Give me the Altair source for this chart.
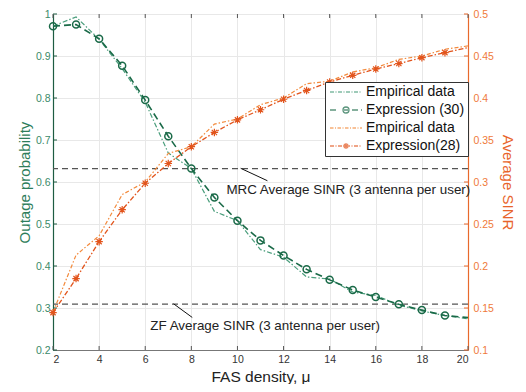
import altair as alt
import pandas as pd

# ---------------- data ----------------
x_vals = list(range(2, 21))
green_emp = [0.971, 0.993, 0.940, 0.870, 0.790, 0.669, 0.632, 0.530, 0.508, 0.439,
             0.421, 0.374, 0.369, 0.338, 0.330, 0.307, 0.293, 0.282, 0.274]
green_exp = [0.971, 0.975, 0.941, 0.877, 0.795, 0.709, 0.632, 0.563, 0.508, 0.461,
             0.425, 0.392, 0.367, 0.343, 0.326, 0.309, 0.295, 0.282, 0.277]
orange_emp = [0.145, 0.213, 0.236, 0.285, 0.300, 0.334, 0.342, 0.369, 0.375, 0.392,
              0.400, 0.417, 0.420, 0.431, 0.436, 0.446, 0.450, 0.458, 0.462]
orange_exp = [0.1445, 0.185, 0.229, 0.267, 0.2985, 0.322, 0.342, 0.359, 0.374, 0.386,
              0.3985, 0.409, 0.419, 0.427, 0.4345, 0.441, 0.448, 0.454, 0.460]
marker_x = list(range(2, 20))

ref_levels = [0.632, 0.309]          # MRC, ZF (left-axis units)
ann_text = ["MRC Average SINR (3 antenna per user)", "ZF Average SINR (3 antenna per user)"]
ann_tx = [9.52, 6.22]
ann_ty = [0.580, 0.257]
lead_x = [10.14, 7.23]
lead_y = [0.6326, 0.310]
lead_x2 = [11.30, 8.04]
lead_y2 = [0.603, 0.2775]

x_ticks = [2, 4, 6, 8, 10, 12, 14, 16, 18, 20]
left_ticks = [0.2, 0.3, 0.4, 0.5, 0.6, 0.7, 0.8, 0.9, 1.0]
right_ticks = [0.1, 0.15, 0.2, 0.25, 0.3, 0.35, 0.4, 0.45, 0.5]

legend_keys = ["ge", "gx", "oe", "ox"]
legend_labels = ["Empirical data", "Expression (30)", "Empirical data", "Expression(28)"]

# ---------------- style ----------------
FONT = "Liberation Sans"
W, H = 415, 336
C_GE, C_GX = "#4a9e7c", "#1a6a48"
C_OE, C_OX = "#f38a3c", "#e2541c"
C_LAX, C_LLAB = "#1d5c42", "#3b8a69"
C_RAX, C_RLAB = "#e8692c", "#ef7a3a"

# legend symbol geometry (pixels); symbol size 100 -> 1 path unit = 5 px
U = 5.0
L0 = -5.0   # left edge of symbol drawing, px from symbol centre
SPAN = 32.0

def P(px):
    return px / U

def seg_path(pattern, start=L0, end=L0 + SPAN):
    out, pos, i = [], start, 0
    while pos < end:
        ln = pattern[i % len(pattern)]
        if i % 2 == 0:
            a, b = pos, min(pos + ln, end)
            out.append("M%.3f,0H%.3f" % (P(a), P(b)))
        pos += ln
        i += 1
    return "".join(out)

def circle_path(cx, r):
    return "M%.3f,0A%.3f,%.3f 0 1,0 %.3f,0A%.3f,%.3f 0 1,0 %.3f,0" % (
        P(cx - r), P(r), P(r), P(cx + r), P(r), P(r), P(cx - r))

def aster_path(cx, r):
    d = r * 0.7
    return ("M%.3f,0H%.3f" % (P(cx - r), P(cx + r)) +
            "M%.3f,%.3fV%.3f" % (P(cx), P(-r), P(r)) +
            "M%.3f,%.3fL%.3f,%.3f" % (P(cx - d), P(-d), P(cx + d), P(d)) +
            "M%.3f,%.3fL%.3f,%.3f" % (P(cx - d), P(d), P(cx + d), P(-d)))

CX = L0 + SPAN / 2
ASTER = "M-1,0H1M0,-1V1M-0.7,-0.7L0.7,0.7M-0.7,0.7L0.7,-0.7"
leg_paths = [
    seg_path([4, 1.5, 1, 1.5]),
    ("M%.3f,0H%.3f" % (P(L0), P(L0 + 6)) + "M%.3f,0H%.3f" % (P(CX - 2), P(CX + 2)) +
     circle_path(CX, 3) + "M%.3f,0H%.3f" % (P(CX + 6), P(CX + 12)) +
     "M%.3f,0H%.3f" % (P(CX + 15), P(L0 + SPAN))),
    seg_path([3.5, 1.5, 1, 1.5]),
    seg_path([4, 1.5, 1, 1.5]) + aster_path(CX, 3),
]
label_map = " : ".join(
    "datum.label == '%s' ? '%s'" % (k, l) for k, l in zip(legend_keys, legend_labels)) + " : ''"

df = pd.DataFrame({"x": x_vals, "ge": green_emp, "gx": green_exp, "oe": orange_emp, "ox": orange_exp})
dfm = df[df["x"].isin(marker_x)]

xs = alt.Scale(domain=[2, 20], nice=False)
x_axis = alt.Axis(values=x_ticks, grid=True, gridColor="#e8e8e8", tickSize=0, labelColor="#333",
                  labelFontSize=10.5, labelFont=FONT, domainColor="#777", title="FAS density, μ",
                  titleFontSize=15.5, titleFont=FONT, titleFontWeight="normal", titleColor="#222",
                  labelPadding=4, titlePadding=5)
left_axis = alt.Axis(values=left_ticks, format=".1~f", grid=True, gridColor="#e8e8e8", tickSize=0,
                     labelColor=C_LLAB, labelFontSize=10.5, labelFont=FONT, domainColor=C_LAX,
                     domainWidth=1.2, title="Outage probability", titleColor="#2e7d5b",
                     titleFontSize=15, titleFont=FONT, titleFontWeight="normal", labelPadding=3,
                     titlePadding=3, orient="left")
right_axis = alt.Axis(values=right_ticks, format=".2~f", grid=False, tickSize=0,
                      labelColor=C_RLAB, labelFontSize=10.5, labelFont=FONT, domainColor=C_RAX,
                      domainWidth=1.2, title="Average SINR", titleColor="#e8642a",
                      titleFontSize=15, titleFont=FONT, titleFontWeight="normal", labelPadding=5,
                      titlePadding=6, orient="right")
ls = alt.Scale(domain=[0.2, 1.0], nice=False)
rs = alt.Scale(domain=[0.1, 0.5], nice=False)

def X(f="x"):
    return alt.X(f + ":Q", scale=xs, axis=x_axis)

def YL(f):
    return alt.Y(f + ":Q", scale=ls, axis=left_axis)

def YR(f):
    return alt.Y(f + ":Q", scale=rs, axis=right_axis)

base = alt.Chart(df)

refs = alt.Chart(pd.DataFrame({"v": ref_levels})).mark_rule(
    color="#555", strokeDash=[6, 4], strokeWidth=1.2).encode(y=YL("v"))

g_emp = base.mark_line(color=C_GE, strokeWidth=1.2, strokeDash=[5, 2, 1.5, 2]).encode(x=X(), y=YL("ge"))
g_exp = base.mark_line(color=C_GX, strokeWidth=1.6, strokeDash=[7, 4]).encode(x=X(), y=YL("gx"))
g_pts = alt.Chart(dfm).mark_point(shape="circle", size=49, filled=False, color=C_GX,
                                  strokeWidth=1.5, opacity=1).encode(x=X(), y=YL("gx"))

lead = alt.Chart(pd.DataFrame({"x": lead_x, "y": lead_y, "x2": lead_x2, "y2": lead_y2})).mark_rule(
    color="#111", strokeWidth=1).encode(x=X(), y=YL("y"), x2="x2:Q", y2="y2:Q")
texts = alt.Chart(pd.DataFrame({"x": ann_tx, "y": ann_ty, "t": ann_text})).mark_text(
    align="left", baseline="middle", fontSize=13.4, font=FONT, color="#222").encode(
    x=X(), y=YL("y"), text="t:N")

lt = alt.Chart(pd.DataFrame({"v": left_ticks})).mark_rule(color=C_LAX, strokeWidth=1).encode(
    y=YL("v"), x=alt.value(0), x2=alt.value(4))
xt_b = alt.Chart(pd.DataFrame({"v": x_ticks})).mark_rule(color="#555", strokeWidth=1).encode(
    x=X("v"), y=alt.value(H - 4), y2=alt.value(H))
xt_t = alt.Chart(pd.DataFrame({"v": x_ticks})).mark_rule(color="#555", strokeWidth=1).encode(
    x=X("v"), y=alt.value(0), y2=alt.value(4))

leg_obj = alt.Legend(title=None, labelExpr=label_map)
leg = alt.Chart(pd.DataFrame({"k": legend_keys})).transform_filter("false").mark_point(
    filled=False, size=100).encode(
    color=alt.Color("k:N", scale=alt.Scale(domain=legend_keys, range=[C_GE, C_GX, C_OE, C_OX]),
                    legend=leg_obj),
    shape=alt.Shape("k:N", scale=alt.Scale(domain=legend_keys, range=leg_paths),
                    legend=leg_obj),
)

o_emp = base.mark_line(color=C_OE, strokeWidth=1.2, strokeDash=[4, 2, 1.5, 2]).encode(x=X(), y=YR("oe"))
o_exp = base.mark_line(color=C_OX, strokeWidth=1.3, strokeDash=[5, 2, 1.5, 2]).encode(x=X(), y=YR("ox"))
o_pts = alt.Chart(dfm).mark_point(shape=ASTER, size=56, filled=False, color=C_OX,
                                  strokeWidth=1.2, opacity=1).encode(x=X(), y=YR("ox"))
rt = alt.Chart(pd.DataFrame({"v": right_ticks})).mark_rule(color=C_RAX, strokeWidth=1).encode(
    y=YR("v"), x=alt.value(W - 4), x2=alt.value(W))

left_group = alt.layer(refs, g_emp, g_exp, g_pts, lead, texts, lt, xt_b, xt_t, leg)
right_group = alt.layer(o_emp, o_exp, o_pts, rt)

legend_cfg = dict(
    orient="none", legendX=272, legendY=68, strokeColor="#333", fillColor="white",
    padding=3, labelFont=FONT, labelFontSize=14, labelColor="#111",
    symbolSize=100, symbolStrokeWidth=1.3, symbolFillColor="transparent",
    rowPadding=4, labelOffset=24,
)

chart = alt.layer(left_group, right_group).resolve_scale(y="independent").properties(
    width=W, height=H,
    autosize=alt.AutoSizeParams(type="none"),
    padding={"left": 45, "top": 6, "right": 50, "bottom": 34},
).configure_view(stroke="#444", strokeWidth=1).configure_legend(**legend_cfg)

chart.save("out.html", embed_options={"renderer": "svg", "actions": False})
